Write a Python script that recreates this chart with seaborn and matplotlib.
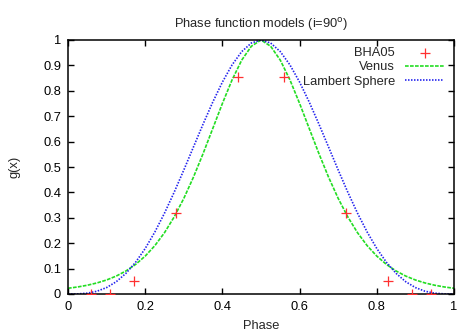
import numpy as np
import pandas as pd
import matplotlib
matplotlib.use("Agg")
import matplotlib.pyplot as plt
import seaborn as sns
from matplotlib.ticker import FuncFormatter

# ---- data ----
phase_grid = [0.0, 0.025, 0.05, 0.075, 0.1, 0.125, 0.15, 0.175, 0.2, 0.225,
              0.25, 0.275, 0.3, 0.325, 0.35, 0.375, 0.4, 0.425, 0.45, 0.475,
              0.5, 0.525, 0.55, 0.575, 0.6, 0.625, 0.65, 0.675, 0.7, 0.725,
              0.75, 0.775, 0.8, 0.825, 0.85, 0.875, 0.9, 0.925, 0.95, 0.975, 1.0]
venus = [0.0226, 0.0277, 0.0345, 0.0435, 0.0552, 0.0706, 0.0906, 0.1163, 0.1492, 0.1904,
         0.2414, 0.3032, 0.3763, 0.4601, 0.5529, 0.6514, 0.7502, 0.8428, 0.9206, 0.9754,
         1.0, 0.9754, 0.9206, 0.8428, 0.7502, 0.6514, 0.5529, 0.4601, 0.3763, 0.3032,
         0.2414, 0.1904, 0.1492, 0.1163, 0.0906, 0.0706, 0.0552, 0.0435, 0.0345, 0.0277, 0.0226]
lambert = [0.0, 0.0004, 0.0033, 0.0109, 0.0253, 0.0483, 0.0812, 0.1247, 0.1791, 0.2440,
           0.3183, 0.4004, 0.4881, 0.5787, 0.6690, 0.7554, 0.8343, 0.9019, 0.9543, 0.9881,
           1.0, 0.9881, 0.9543, 0.9019, 0.8343, 0.7554, 0.6690, 0.5787, 0.4881, 0.4004,
           0.3183, 0.2440, 0.1791, 0.1247, 0.0812, 0.0483, 0.0253, 0.0109, 0.0033, 0.0004, 0.0]
bha_phase = [0.06, 0.11, 0.17, 0.28, 0.44, 0.56, 0.72, 0.83, 0.89, 0.94]
bha_g = [0.0, 0.0, 0.052, 0.318, 0.855, 0.855, 0.318, 0.052, 0.0, 0.0]

x_ticks = [0, 0.2, 0.4, 0.6, 0.8, 1]
y_ticks = [0, 0.1, 0.2, 0.3, 0.4, 0.5, 0.6, 0.7, 0.8, 0.9, 1]

curves = pd.DataFrame({"phase": phase_grid, "Venus": venus, "Lambert": lambert})
points = pd.DataFrame({"phase": bha_phase, "g": bha_g})

sns.set_theme(style="white")
plt.rcParams['font.family'] = ['Liberation Sans', 'DejaVu Sans']
FS = 9.3
plt.rcParams['font.size'] = FS

fig = plt.figure(figsize=(4.77, 3.34), dpi=100)
ax = fig.add_axes([68/477, 40/334, 386/477, 254/334])

sns.scatterplot(data=points, x="phase", y="g", ax=ax, marker="+", s=42,
                color="#ff3030", edgecolor="#ff3030", linewidth=0.9,
                label="BHA05", zorder=3)
sns.lineplot(data=curves, x="phase", y="Venus", ax=ax, color="#22dd22",
             linewidth=1.2, label="Venus", zorder=2)
sns.lineplot(data=curves, x="phase", y="Lambert", ax=ax, color="#2222ee",
             linewidth=1.2, label="Lambert Sphere", zorder=2)

lines = ax.get_lines()
lines[0].set_dashes((2.2, 0.8))
lines[1].set_dashes((0.9, 0.9))

ax.set_xlim(0, 1)
ax.set_ylim(0, 1)
ax.set_xticks(x_ticks)
ax.set_yticks(y_ticks)
fmt = FuncFormatter(lambda v, p: "%g" % v)
ax.xaxis.set_major_formatter(fmt)
ax.yaxis.set_major_formatter(fmt)
ax.tick_params(direction="in", length=4, width=1, colors="black",
               top=True, right=True, bottom=True, left=True, labelsize=FS, pad=5)
for s in ax.spines.values():
    s.set_visible(True)
    s.set_color("black")
    s.set_linewidth(1.1)

ax.set_xlabel("Phase", fontsize=FS, labelpad=5)
ax.set_ylabel("g(x)", fontsize=FS, labelpad=16)
ax.set_title("Phase function models (i=90$^{\\rm o}$)", fontsize=FS, pad=9)

leg = ax.legend(loc="upper right", bbox_to_anchor=(0.974, 0.973), frameon=False,
                markerfirst=False, fontsize=FS, borderaxespad=0, borderpad=0,
                handlelength=3.0, handletextpad=0.8, labelspacing=0.18)

fig.savefig("out.png", dpi=100)
